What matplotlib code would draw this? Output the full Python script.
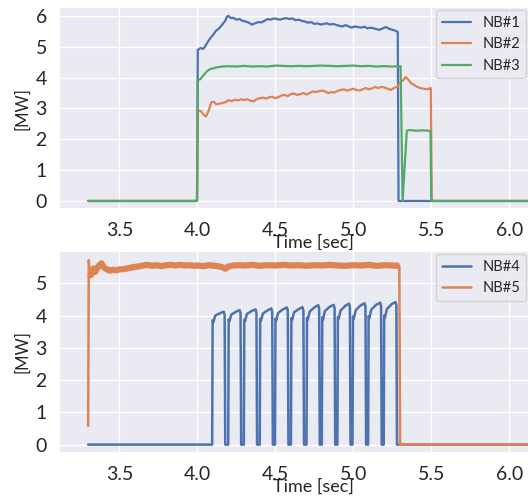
import matplotlib
matplotlib.use("Agg")
import matplotlib.pyplot as plt
import seaborn as sns

sns.set_theme(style="darkgrid")
plt.rcParams["font.family"] = ["Lato", "DejaVu Sans"]

# ---- top panel: NB#1..NB#3 ----
nb1_time = [3.30, 3.998, 4.003, 4.02, 4.035, 4.045, 4.06, 4.08, 4.10, 4.12, 4.14,
            4.16, 4.18, 4.19, 4.20, 4.215, 4.23, 4.25, 4.27, 4.29, 4.31, 4.33,
            4.35, 4.37, 4.39, 4.41, 4.43, 4.45, 4.47, 4.49, 4.51, 4.53, 4.55,
            4.57, 4.59, 4.61, 4.63, 4.65, 4.67, 4.69, 4.71, 4.73, 4.75, 4.77,
            4.79, 4.81, 4.83, 4.85, 4.87, 4.89, 4.91, 4.93, 4.95, 4.97, 4.99,
            5.01, 5.03, 5.05, 5.07, 5.09, 5.11, 5.13, 5.15, 5.17, 5.19, 5.21,
            5.23, 5.25, 5.27, 5.285, 5.29, 6.50]
nb1_mw = [0, 0, 4.90, 4.96, 4.93, 4.97, 5.10, 5.26, 5.38, 5.52, 5.60,
          5.72, 5.85, 5.98, 6.00, 5.93, 5.94, 5.88, 5.90, 5.84, 5.82, 5.78,
          5.72, 5.76, 5.80, 5.79, 5.84, 5.90, 5.88, 5.92, 5.90, 5.88, 5.91,
          5.93, 5.90, 5.92, 5.86, 5.88, 5.84, 5.82, 5.78, 5.80, 5.74, 5.76,
          5.72, 5.74, 5.76, 5.72, 5.74, 5.71, 5.68, 5.66, 5.70, 5.66, 5.62,
          5.66, 5.64, 5.62, 5.65, 5.60, 5.62, 5.60, 5.57, 5.55, 5.60, 5.64,
          5.58, 5.55, 5.52, 5.48, 0, 0]

nb2_time = [3.30, 3.998, 4.003, 4.015, 4.025, 4.04, 4.055, 4.07, 4.09, 4.105,
            4.12, 4.14, 4.16, 4.18, 4.20, 4.22, 4.24, 4.26, 4.28, 4.30, 4.32,
            4.34, 4.36, 4.38, 4.40, 4.42, 4.44, 4.46, 4.48, 4.50, 4.52, 4.54,
            4.56, 4.58, 4.60, 4.62, 4.64, 4.66, 4.68, 4.70, 4.72, 4.74, 4.76,
            4.78, 4.80, 4.82, 4.84, 4.86, 4.88, 4.90, 4.92, 4.94, 4.96, 4.98,
            5.00, 5.02, 5.04, 5.06, 5.08, 5.10, 5.12, 5.14, 5.16, 5.18, 5.20,
            5.22, 5.24, 5.26, 5.28, 5.30, 5.32, 5.335, 5.35, 5.37, 5.39, 5.41,
            5.43, 5.45, 5.47, 5.49, 5.497, 5.503, 6.50]
nb2_mw = [0, 0, 2.88, 2.93, 2.90, 2.80, 2.74, 2.90, 3.20, 3.22,
          3.14, 3.15, 3.18, 3.20, 3.27, 3.24, 3.28, 3.26, 3.30, 3.27, 3.30,
          3.25, 3.23, 3.30, 3.33, 3.35, 3.32, 3.36, 3.38, 3.33, 3.37, 3.42,
          3.44, 3.40, 3.47, 3.48, 3.44, 3.46, 3.50, 3.45, 3.50, 3.55, 3.53,
          3.56, 3.58, 3.55, 3.50, 3.53, 3.52, 3.57, 3.60, 3.62, 3.58, 3.61,
          3.64, 3.60, 3.58, 3.62, 3.66, 3.62, 3.65, 3.70, 3.66, 3.70, 3.68,
          3.64, 3.60, 3.66, 3.70, 3.82, 3.92, 4.02, 3.95, 3.82, 3.76, 3.70,
          3.66, 3.64, 3.62, 3.65, 3.66, 0, 0]

nb3_time = [3.30, 3.998, 4.003, 4.02, 4.04, 4.06, 4.08, 4.10, 4.13, 4.16, 4.20,
            4.25, 4.30, 4.35, 4.40, 4.45, 4.50, 4.55, 4.60, 4.65, 4.70, 4.75,
            4.80, 4.85, 4.90, 4.95, 5.00, 5.05, 5.10, 5.15, 5.20, 5.25, 5.303,
            5.316, 5.343, 5.36, 5.40, 5.45, 5.495, 5.50, 6.50]
nb3_mw = [0, 0, 3.93, 3.95, 4.08, 4.20, 4.27, 4.30, 4.34, 4.36, 4.37,
          4.36, 4.38, 4.36, 4.37, 4.36, 4.39, 4.38, 4.37, 4.38, 4.37, 4.38,
          4.39, 4.38, 4.37, 4.38, 4.39, 4.37, 4.38, 4.36, 4.37, 4.36, 4.37,
          0, 2.28, 2.30, 2.28, 2.29, 2.27, 0, 0]

# ---- bottom panel: NB#4 (modulated) and NB#5 ----
nb4_time = [3.30,
            4.095, 4.098, 4.103, 4.115, 4.145, 4.169, 4.175, 4.179,
            4.198, 4.201, 4.206, 4.218, 4.248, 4.271, 4.277, 4.281,
            4.298, 4.301, 4.306, 4.318, 4.348, 4.373, 4.379, 4.383,
            4.400, 4.403, 4.408, 4.420, 4.450, 4.474, 4.480, 4.484,
            4.498, 4.501, 4.506, 4.518, 4.548, 4.574, 4.580, 4.584,
            4.600, 4.603, 4.608, 4.620, 4.650, 4.674, 4.680, 4.684,
            4.700, 4.703, 4.708, 4.720, 4.750, 4.775, 4.781, 4.785,
            4.798, 4.801, 4.806, 4.818, 4.848, 4.874, 4.880, 4.884,
            4.898, 4.901, 4.906, 4.918, 4.948, 4.972, 4.978, 4.982,
            4.995, 4.998, 5.003, 5.015, 5.045, 5.072, 5.078, 5.082,
            5.095, 5.098, 5.103, 5.115, 5.145, 5.172, 5.178, 5.182,
            5.195, 5.198, 5.203, 5.215, 5.245, 5.270, 5.276, 5.280,
            6.50]
nb4_mw = [0,
          0, 3.85, 3.80, 4.00, 4.07, 4.12, 4.02, 0,
          0, 3.88, 3.82, 4.03, 4.12, 4.17, 4.07, 0,
          0, 3.87, 3.83, 4.05, 4.14, 4.19, 4.09, 0,
          0, 3.90, 3.84, 4.06, 4.16, 4.22, 4.12, 0,
          0, 3.90, 3.85, 4.08, 4.19, 4.25, 4.15, 0,
          0, 3.92, 3.86, 4.10, 4.20, 4.26, 4.16, 0,
          0, 3.93, 3.87, 4.12, 4.25, 4.32, 4.22, 0,
          0, 3.95, 3.88, 4.14, 4.27, 4.33, 4.23, 0,
          0, 3.95, 3.90, 4.15, 4.30, 4.37, 4.27, 0,
          0, 3.97, 3.90, 4.16, 4.31, 4.38, 4.28, 0,
          0, 3.98, 3.92, 4.18, 4.33, 4.40, 4.30, 0,
          0, 4.00, 3.93, 4.20, 4.35, 4.42, 4.32, 0,
          0]

nb5_time = [3.300, 3.304, 3.31, 3.317, 3.325, 3.335, 3.345, 3.355, 3.37, 3.385,
            3.395, 3.41, 3.425, 3.44, 3.46, 3.48, 3.50, 3.53, 3.56, 3.59, 3.62,
            3.65, 3.68, 3.71, 3.74, 3.77, 3.80, 3.83, 3.86, 3.89, 3.92, 3.95,
            3.98, 4.01, 4.04, 4.07, 4.10, 4.13, 4.16, 4.18, 4.20, 4.23, 4.26,
            4.30, 4.35, 4.40, 4.45, 4.50, 4.55, 4.60, 4.65, 4.70, 4.75, 4.80,
            4.85, 4.90, 4.95, 5.00, 5.05, 5.10, 5.15, 5.20, 5.25, 5.295, 5.30,
            6.50]
nb5_mw = [0.58, 5.72, 5.30, 5.25, 5.40, 5.46, 5.35, 5.45, 5.55, 5.62,
          5.52, 5.46, 5.42, 5.39, 5.42, 5.40, 5.43, 5.44, 5.47, 5.50, 5.52,
          5.55, 5.57, 5.54, 5.56, 5.53, 5.56, 5.57, 5.55, 5.57, 5.55, 5.56,
          5.54, 5.55, 5.53, 5.56, 5.55, 5.53, 5.50, 5.45, 5.52, 5.55, 5.56,
          5.55, 5.57, 5.54, 5.56, 5.55, 5.57, 5.55, 5.56, 5.54, 5.56, 5.55,
          5.57, 5.55, 5.54, 5.56, 5.55, 5.57, 5.54, 5.56, 5.55, 5.54, 0,
          0]

blue, orange, green = sns.color_palette("deep")[:3]

W, H = 528, 496
fig = plt.figure(figsize=(W / 100, H / 100), dpi=100)
left = 59.3 / W
width = (567 - 59.3) / W
ax1 = fig.add_axes([left, 1 - 209.3 / H, width, 202 / H])
ax2 = fig.add_axes([left, 1 - 453 / H, width, 202 / H])

ax1.plot(nb1_time, nb1_mw, color=blue, lw=1.6, label="NB#1")
ax1.plot(nb2_time, nb2_mw, color=orange, lw=1.6, label="NB#2")
ax1.plot(nb3_time, nb3_mw, color=green, lw=1.6, label="NB#3")
ax1.set_ylim(-0.27, 6.28)
ax1.set_yticks(range(0, 7))

ax2.plot(nb4_time, nb4_mw, color=blue, lw=1.8, label="NB#4")
ax2.plot(nb5_time, nb5_mw, color=orange, lw=1.8, label="NB#5")
# the noisy flat top of NB#5 reads as a thick band
ax2.plot(nb5_time[2:-2], nb5_mw[2:-2], color=orange, lw=4.5, solid_capstyle="butt")
ax2.set_ylim(-0.26, 6.0)
ax2.set_yticks(range(0, 6))

for ax in (ax1, ax2):
    ax.set_xlim(3.115, 6.37)
    ax.set_xticks([3.5, 4.0, 4.5, 5.0, 5.5, 6.0])
    ax.tick_params(labelsize=14, pad=3)
    ax.set_xlabel("Time [sec]", fontsize=13, labelpad=-3)
    ax.set_ylabel("[MW]", fontsize=12)
    ax.legend(loc="upper left", bbox_to_anchor=(0.736, 1.0), borderaxespad=0.2,
              fontsize=10.5, handlelength=2.0)

fig.savefig("out.png", dpi=100)
